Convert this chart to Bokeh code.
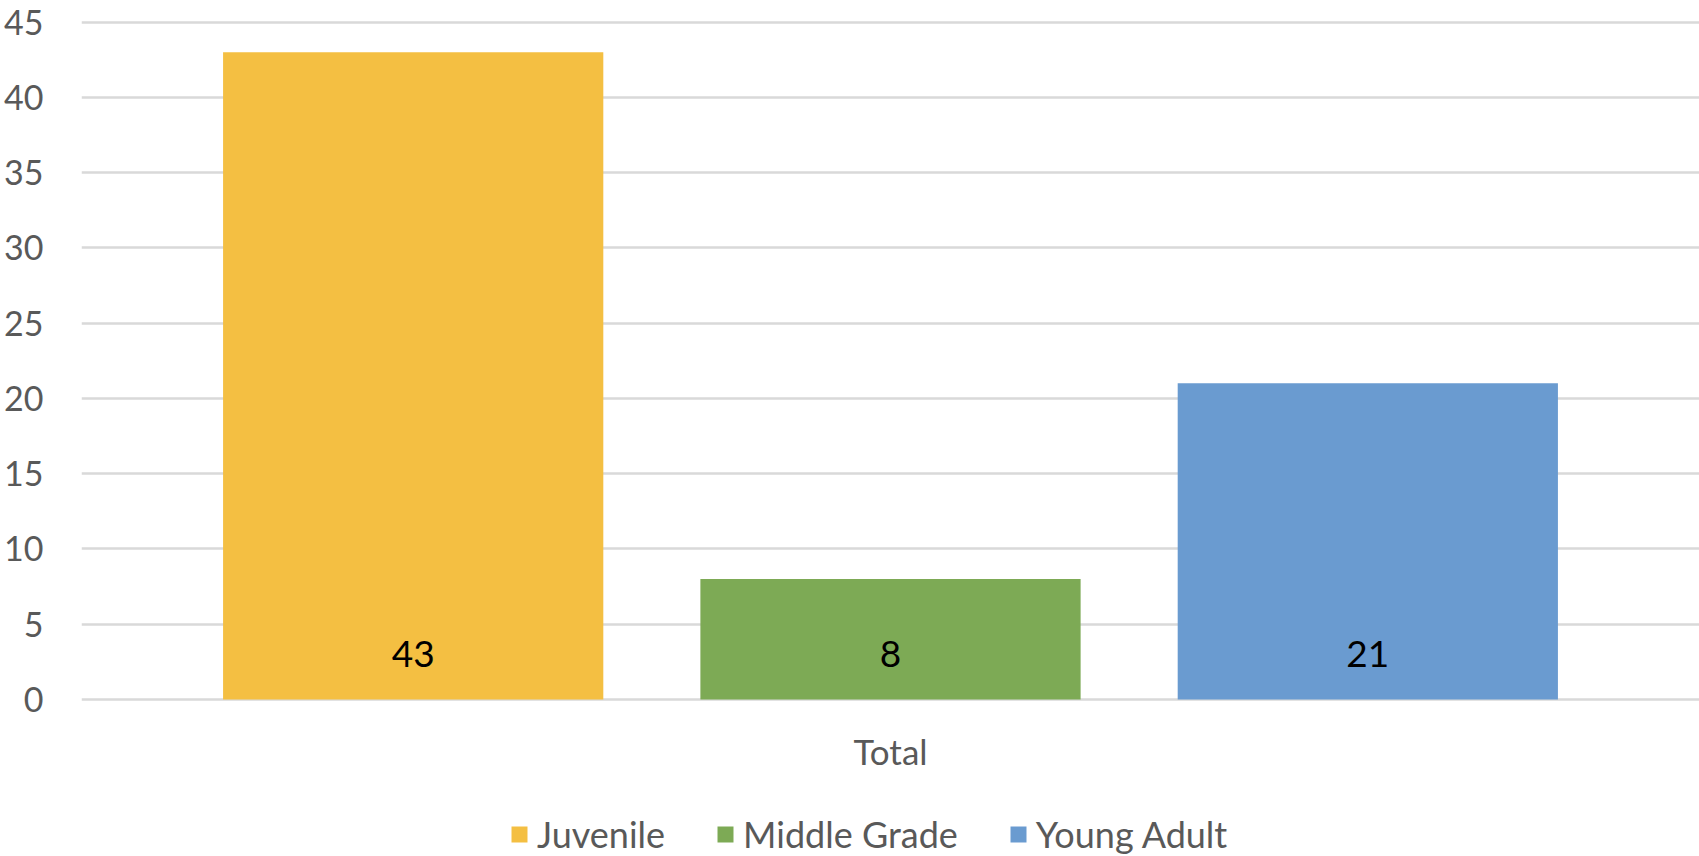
from bokeh.plotting import figure
from bokeh.core.properties import value
from bokeh.models import (ColumnDataSource, FactorRange, Range1d, Legend,
                          LegendItem, LabelSet, FixedTicker)
from bokeh.transform import dodge
from bokeh.embed import file_html
from bokeh.resources import INLINE

# Data
categories = ["Total"]
series = ["Juvenile", "Middle Grade", "Young Adult"]
values = [43, 8, 21]
colors = ["#F4BF42", "#7DAA55", "#6A9BD0"]
y_ticks = [0, 5, 10, 15, 20, 25, 30, 35, 40, 45]

FONT = "Lato"
TICK_COLOR = "#595959"

# The frame runs to the bottom edge so the category label and the legend
# can sit under the zero line; gridlines are only drawn at the ticks.
p = figure(
    width=1699, height=856,
    x_range=FactorRange(factors=categories, range_padding=0),
    y_range=Range1d(-10.43, 45.5),
    output_backend="svg", toolbar_location=None,
    min_border_left=81, min_border_right=0, min_border_top=14, min_border_bottom=0,
)

# Clustered bars: one renderer per series, dodged within the single category
step = 0.295
bar_width = 0.235
renderers = []
for i, (name, val, col) in enumerate(zip(series, values, colors)):
    src = ColumnDataSource(dict(cat=categories, top=[val], label=[str(val)]))
    off = (i - (len(series) - 1) / 2) * step
    r = p.vbar(x=dodge("cat", off, range=p.x_range), top="top", bottom=0,
               width=bar_width, fill_color=col, line_color=None, source=src)
    renderers.append(r)
    p.add_layout(LabelSet(
        x=dodge("cat", off, range=p.x_range), y=0, text="label", source=src,
        text_align="center", text_baseline="alphabetic", y_offset=32,
        text_font=value(FONT), text_font_size=value("37px"), text_color=value("black"),
    ))

# Category label under the zero line
cat_src = ColumnDataSource(dict(cat=categories, y=[0] * len(categories)))
p.add_layout(LabelSet(
    x="cat", y="y", text="cat", source=cat_src, y_offset=-52,
    text_align="center", text_baseline="middle",
    text_font=value(FONT), text_font_size=value("35px"), text_color=value(TICK_COLOR),
))

legend = Legend(
    items=[LegendItem(label=s, renderers=[r]) for s, r in zip(series, renderers)],
    orientation="horizontal", location=(428, 0),
    label_text_font=FONT, label_text_font_size="36px", label_text_color=TICK_COLOR,
    glyph_width=20, glyph_height=20, spacing=50, label_standoff=8,
    border_line_color=None, background_fill_alpha=0, padding=0, margin=0,
)
p.add_layout(legend)

# Axes
p.xaxis.visible = False
p.yaxis.ticker = FixedTicker(ticks=y_ticks)
p.ygrid.ticker = FixedTicker(ticks=y_ticks)
ax = p.yaxis[0]
ax.axis_line_color = None
ax.major_tick_line_color = None
ax.minor_tick_line_color = None
ax.major_label_text_font = FONT
ax.major_label_text_font_size = "34px"
ax.major_label_text_color = TICK_COLOR
ax.major_label_standoff = 32

p.xgrid.grid_line_color = None
p.ygrid.grid_line_color = "#D9D9D9"
p.ygrid.grid_line_width = 2.5
p.outline_line_color = None
p.background_fill_color = "white"
p.border_fill_color = "white"

open("out.html", "w").write(file_html(p, INLINE))
